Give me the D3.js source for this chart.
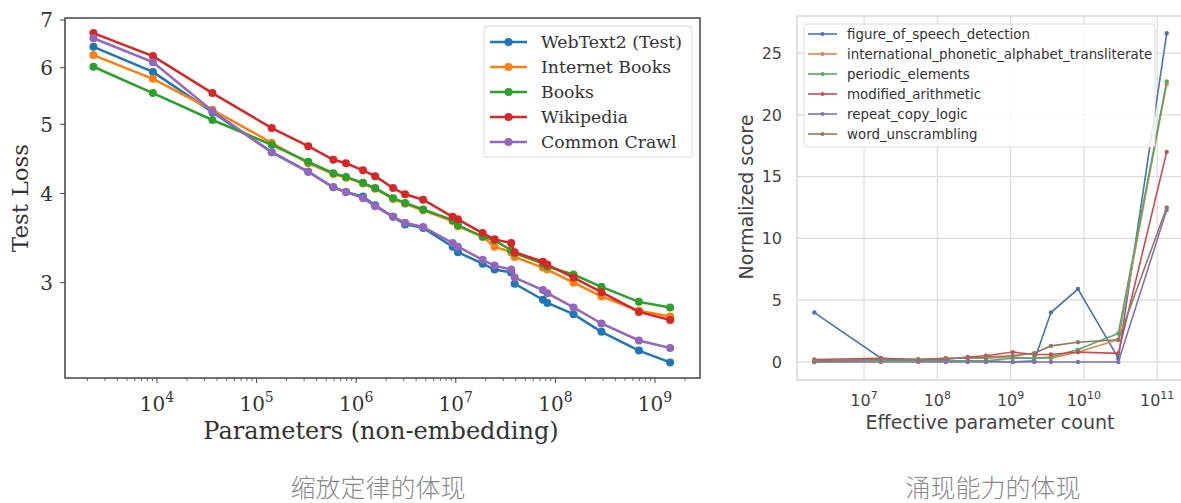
<!DOCTYPE html>
<html>
<head>
<meta charset="utf-8">
<script src="https://cdn.jsdelivr.net/npm/d3@7"></script>
<style>
  body { margin: 0; background: #fff; }
  svg { display: block; }
</style>
</head>
<body>
<div id="chart"></div>
<script>
// ---- left panel: test loss vs parameters ----
const lossParams = [2.3e3, 9.1e3, 3.6e4, 1.42e5, 3.3e5, 5.9e5, 7.9e5, 1.17e6, 1.55e6, 2.35e6, 3.1e6, 4.7e6,
  9.3e6, 1.05e7, 1.86e7, 2.45e7, 3.6e7, 3.9e7, 7.5e7, 8.3e7, 1.52e8, 2.9e8, 6.9e8, 1.42e9];
const webText2 = [6.42, 5.92, 5.20, 4.57, 4.29, 4.08, 4.02, 3.96, 3.85, 3.71, 3.62, 3.58,
  3.37, 3.31, 3.19, 3.13, 3.10, 2.99, 2.84, 2.81, 2.71, 2.56, 2.41, 2.32];
const internetBooks = [6.25, 5.79, 5.24, 4.71, 4.41, 4.26, 4.21, 4.13, 4.06, 3.93, 3.87, 3.79,
  3.66, 3.60, 3.48, 3.37, 3.31, 3.26, 3.15, 3.13, 3.00, 2.87, 2.74, 2.69];
const books = [6.02, 5.53, 5.07, 4.68, 4.43, 4.27, 4.22, 4.14, 4.07, 3.94, 3.88, 3.80,
  3.67, 3.61, 3.48, 3.44, 3.33, 3.30, 3.19, 3.16, 3.08, 2.96, 2.82, 2.77];
const wikipedia = [6.71, 6.23, 5.53, 4.94, 4.66, 4.46, 4.41, 4.31, 4.23, 4.07, 3.99, 3.92,
  3.71, 3.68, 3.52, 3.45, 3.41, 3.31, 3.21, 3.18, 3.05, 2.91, 2.73, 2.66];
const commonCrawl = [6.60, 6.11, 5.22, 4.57, 4.29, 4.08, 4.02, 3.94, 3.84, 3.71, 3.64, 3.59,
  3.41, 3.37, 3.23, 3.17, 3.13, 3.05, 2.93, 2.90, 2.77, 2.63, 2.49, 2.43];
const lossNames = ["WebText2 (Test)", "Internet Books", "Books", "Wikipedia", "Common Crawl"];
const lossTicks = [3, 4, 5, 6, 7];
const paramTicks = [1e4, 1e5, 1e6, 1e7, 1e8, 1e9];

// ---- right panel: emergent abilities ----
const taskParams = [2.1e6, 1.7e7, 5.5e7, 1.3e8, 2.6e8, 4.6e8, 1.07e9, 2.1e9, 3.55e9, 8.3e9, 2.95e10, 1.35e11];
const figureOfSpeech = [4.0, 0.3, 0.1, 0.1, 0.1, 0.1, 0.0, 0.1, 4.0, 5.9, 0.3, 26.6];
const phoneticAlphabet = [0.1, 0.2, 0.2, 0.3, 0.3, 0.3, 0.4, 0.3, 0.3, 0.8, 1.8, 22.5];
const periodicElements = [0.0, 0.1, 0.1, 0.1, 0.1, 0.1, 0.3, 0.3, 0.4, 1.0, 2.3, 22.7];
const modifiedArithmetic = [0.2, 0.3, 0.2, 0.2, 0.4, 0.5, 0.8, 0.6, 0.6, 0.8, 0.7, 17.0];
const repeatCopyLogic = [0, 0, 0, 0, 0, 0, 0, 0, 0, 0, 0, 12.3];
const wordUnscrambling = [0.1, 0.2, 0.2, 0.3, 0.3, 0.4, 0.5, 0.7, 1.3, 1.6, 1.8, 12.5];
const taskNames = ["figure_of_speech_detection", "international_phonetic_alphabet_transliterate",
  "periodic_elements", "modified_arithmetic", "repeat_copy_logic", "word_unscrambling"];
const scoreTicks = [0, 5, 10, 15, 20, 25];
const effTicks = [1e7, 1e8, 1e9, 1e10, 1e11];

const captions = ["缩放定律的体现", "涌现能力的体现"];

const W = 1181, H = 503;
const svg = d3.select("#chart").append("svg").attr("width", W).attr("height", H);

const supLabel = (sel, k, big, small) => {
  const exp = Math.round(Math.log10(k));
  sel.append("tspan").text("10");
  sel.append("tspan").attr("dy", -big * 0.45).style("font-size", small + "px").text(exp);
};

// ================= left chart =================
{
  const L = { left: 65, right: 700, top: 18, bottom: 378 };
  const serif = "'DejaVu Serif', serif";
  const colors = ["#1f77b4", "#ff7f0e", "#2ca02c", "#d62728", "#9467bd"];
  const seriesVals = [webText2, internetBooks, books, wikipedia, commonCrawl];

  const x = d3.scaleLog().domain([Math.pow(10, 3.0763), Math.pow(10, 9.452)]).range([L.left, L.right]);
  const y = d3.scaleLog().domain([2.206, 7.045]).range([L.bottom, L.top]);

  const g = svg.append("g");

  // minor x ticks
  const minors = [];
  for (let e = 3; e <= 9; e++) for (let m = 2; m <= 9; m++) {
    const v = m * Math.pow(10, e);
    if (v > x.domain()[0] && v < x.domain()[1]) minors.push(v);
  }
  g.selectAll(".xminor").data(minors).enter().append("line")
    .attr("x1", d => x(d)).attr("x2", d => x(d))
    .attr("y1", L.bottom).attr("y2", L.bottom + 3)
    .attr("stroke", "#444").attr("stroke-width", 0.8);
  g.selectAll(".xmajor").data(paramTicks).enter().append("line")
    .attr("x1", d => x(d)).attr("x2", d => x(d))
    .attr("y1", L.bottom).attr("y2", L.bottom + 5)
    .attr("stroke", "#444").attr("stroke-width", 1);
  g.selectAll(".xlab").data(paramTicks).enter().append("text")
    .attr("x", d => x(d)).attr("y", 411)
    .attr("text-anchor", "middle")
    .style("font-family", serif).style("font-size", "20px").attr("fill", "#333")
    .each(function (d) { supLabel(d3.select(this), d, 20, 14); });

  g.selectAll(".ytick").data(lossTicks).enter().append("line")
    .attr("x1", L.left - 5).attr("x2", L.left)
    .attr("y1", d => y(d)).attr("y2", d => y(d))
    .attr("stroke", "#444").attr("stroke-width", 1);
  g.selectAll(".ylab").data(lossTicks).enter().append("text")
    .attr("x", L.left - 12).attr("y", d => y(d)).attr("dy", "0.36em")
    .attr("text-anchor", "end")
    .style("font-family", serif).style("font-size", "20px").attr("fill", "#333")
    .text(d => d);

  // lines
  const line = d3.line().x(d => x(d[0])).y(d => y(d[1]));
  seriesVals.forEach((vals, i) => {
    const pts = lossParams.map((p, j) => [p, vals[j]]);
    g.append("path").datum(pts).attr("d", line)
      .attr("fill", "none").attr("stroke", colors[i]).attr("stroke-width", 2.5);
    g.selectAll(".pt" + i).data(pts).enter().append("circle")
      .attr("cx", d => x(d[0])).attr("cy", d => y(d[1])).attr("r", 4)
      .attr("fill", colors[i]);
  });

  // frame
  g.append("rect").attr("x", L.left).attr("y", L.top)
    .attr("width", L.right - L.left).attr("height", L.bottom - L.top)
    .attr("fill", "none").attr("stroke", "#444").attr("stroke-width", 1.5);

  // legend
  const lg = g.append("g");
  lg.append("rect").attr("x", 484).attr("y", 26).attr("width", 208).attr("height", 131)
    .attr("rx", 3).attr("fill", "#fff").attr("fill-opacity", 0.85)
    .attr("stroke", "#d8d8d8");
  lossNames.forEach((name, i) => {
    const ly = 42 + i * 25;
    lg.append("line").attr("x1", 490).attr("x2", 527).attr("y1", ly).attr("y2", ly)
      .attr("stroke", colors[i]).attr("stroke-width", 2.5);
    lg.append("circle").attr("cx", 508.5).attr("cy", ly).attr("r", 4).attr("fill", colors[i]);
    lg.append("text").attr("x", 541).attr("y", ly).attr("dy", "0.35em")
      .style("font-family", serif).style("font-size", "17.3px").attr("fill", "#333")
      .text(name);
  });

  svg.append("text").attr("x", 381).attr("y", 439)
    .attr("text-anchor", "middle")
    .style("font-family", serif).style("font-size", "24px").attr("fill", "#333")
    .text("Parameters (non-embedding)");
  svg.append("text").attr("transform", `translate(28, ${(L.top + L.bottom) / 2}) rotate(-90)`)
    .attr("text-anchor", "middle")
    .style("font-family", serif).style("font-size", "23px").attr("fill", "#333")
    .text("Test Loss");
}

// ================= right chart =================
{
  const R = { left: 797, right: 1185, top: 16, bottom: 380 };
  const sans = "'DejaVu Sans', sans-serif";
  const colors = ["#4c72b0", "#dd8452", "#55a868", "#c44e52", "#8172b3", "#937860"];
  const seriesVals = [figureOfSpeech, phoneticAlphabet, periodicElements, modifiedArithmetic, repeatCopyLogic, wordUnscrambling];

  const x = d3.scaleLog().domain([Math.pow(10, 6.085), Math.pow(10, 11.38)]).range([R.left, R.right]);
  const y = d3.scaleLinear().domain([-1.46, 28.0]).range([R.bottom, R.top]);

  const g = svg.append("g");

  // grid
  g.selectAll(".gx").data(effTicks).enter().append("line")
    .attr("x1", d => x(d)).attr("x2", d => x(d)).attr("y1", R.top).attr("y2", R.bottom)
    .attr("stroke", "#dcdcdc").attr("stroke-width", 1.2);
  g.selectAll(".gy").data(scoreTicks).enter().append("line")
    .attr("x1", R.left).attr("x2", R.right).attr("y1", d => y(d)).attr("y2", d => y(d))
    .attr("stroke", "#dcdcdc").attr("stroke-width", 1.2);

  // spines
  g.append("rect").attr("x", R.left).attr("y", R.top)
    .attr("width", R.right - R.left).attr("height", R.bottom - R.top)
    .attr("fill", "none").attr("stroke", "#cfcfcf").attr("stroke-width", 1.2);

  g.selectAll(".xlab").data(effTicks).enter().append("text")
    .attr("x", d => x(d)).attr("y", 406).attr("text-anchor", "middle")
    .style("font-family", sans).style("font-size", "16px").attr("fill", "#444")
    .each(function (d) { supLabel(d3.select(this), d, 16, 11); });
  g.selectAll(".ylab").data(scoreTicks).enter().append("text")
    .attr("x", 782).attr("y", d => y(d)).attr("dy", "0.36em").attr("text-anchor", "end")
    .style("font-family", sans).style("font-size", "16px").attr("fill", "#444")
    .text(d => d);

  const line = d3.line().x(d => x(d[0])).y(d => y(d[1]));
  seriesVals.forEach((vals, i) => {
    const pts = taskParams.map((p, j) => [p, vals[j]]);
    g.append("path").datum(pts).attr("d", line)
      .attr("fill", "none").attr("stroke", colors[i]).attr("stroke-width", 1.6);
    g.selectAll(".pt" + i).data(pts).enter().append("circle")
      .attr("cx", d => x(d[0])).attr("cy", d => y(d[1])).attr("r", 2.2)
      .attr("fill", colors[i]);
  });

  // legend
  const lg = g.append("g");
  lg.append("rect").attr("x", 804).attr("y", 24).attr("width", 351).attr("height", 123)
    .attr("rx", 3).attr("fill", "#fff").attr("fill-opacity", 0.85).attr("stroke", "#dcdcdc");
  taskNames.forEach((name, i) => {
    const ly = 34 + i * 20;
    lg.append("line").attr("x1", 808).attr("x2", 837).attr("y1", ly).attr("y2", ly)
      .attr("stroke", colors[i]).attr("stroke-width", 1.6);
    lg.append("circle").attr("cx", 822.5).attr("cy", ly).attr("r", 2).attr("fill", colors[i]);
    lg.append("text").attr("x", 847).attr("y", ly).attr("dy", "0.35em")
      .style("font-family", sans).style("font-size", "13.4px").attr("fill", "#333")
      .text(name);
  });

  svg.append("text").attr("x", 990).attr("y", 429).attr("text-anchor", "middle")
    .style("font-family", sans).style("font-size", "19px").attr("fill", "#444")
    .text("Effective parameter count");
  svg.append("text").attr("transform", `translate(753, 197) rotate(-90)`)
    .attr("text-anchor", "middle")
    .style("font-family", sans).style("font-size", "19px").attr("fill", "#444")
    .text("Normalized score");
}

// captions
svg.selectAll(".cap").data(captions).enter().append("text")
  .attr("x", (d, i) => i === 0 ? 378 : 993).attr("y", 497)
  .attr("text-anchor", "middle")
  .style("font-family", "'Noto Sans CJK SC', sans-serif").style("font-size", "25px")
  .style("font-weight", 300).attr("fill", "#8a8a8a")
  .text(d => d);
</script>
</body>
</html>
